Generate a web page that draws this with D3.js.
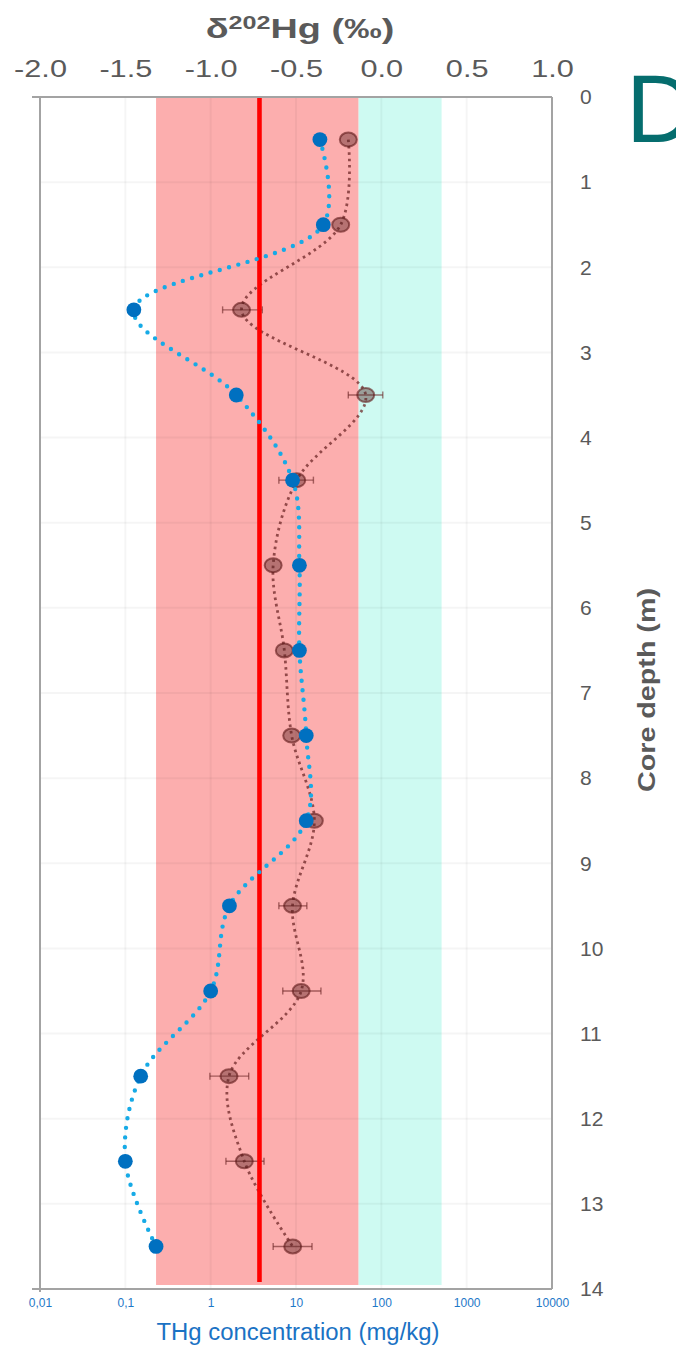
<!DOCTYPE html>
<html><head><meta charset="utf-8">
<script src="https://cdn.jsdelivr.net/npm/d3@7"></script>
<style>
html,body{margin:0;padding:0;background:#fff;}
svg{display:block;font-family:"Liberation Sans",Arial,sans-serif;}
</style></head>
<body>
<svg id="chart" width="676" height="1346"></svg>
<script>
// ---- data ----
const depths = [0.5,1.5,2.5,3.5,4.5,5.5,6.5,7.5,8.5,9.5,10.5,11.5,12.5,13.5];
const delta202Hg = [-0.36,-0.34,-1.45,-0.85,-0.52,-0.48,-0.48,-0.44,-0.44,-0.89,-1.00,-1.41,-1.50,-1.32];
const thgConc = [41,33.4,2.3,65.6,10.2,5.4,7.3,8.9,16.4,9.1,11.5,1.64,2.48,9.15];
const thgErrLow  = [null,null,1.38,41,6.3,null,null,null,null,6.3,7.0,0.98,1.51,5.4];
const thgErrHigh = [null,null,4.03,104,16,null,null,null,null,13.4,19.6,2.79,4.22,15.4];
const deltaTicks = [-2.0,-1.5,-1.0,-0.5,0.0,0.5,1.0];
const concTicks = [0.01,0.1,1,10,100,1000,10000];
const concTickLabels = ["0,01","0,1","1","10","100","1000","10000"];
const depthTicks = [0,1,2,3,4,5,6,7,8,9,10,11,12,13,14];
const pinkBand = [-1.32,-0.133];
const cyanBand = [-0.133,0.353];
const redLine = -0.714;

// ---- scales ----
const L=40,R=552,T=97,B=1289;
const svg = d3.select("#chart");
const xD = d3.scaleLinear().domain([-2,1]).range([L,R]);
const xC = d3.scaleLog().domain([0.01,10000]).range([L,R]);
const y = d3.scaleLinear().domain([0,14]).range([T,B]);

// bands
svg.append("rect").attr("x",xD(pinkBand[0])).attr("y",T)
  .attr("width",xD(pinkBand[1])-xD(pinkBand[0])).attr("height",B-4-T).attr("fill","#fcaeae");
svg.append("rect").attr("x",xD(cyanBand[0])).attr("y",T)
  .attr("width",xD(cyanBand[1])-xD(cyanBand[0])).attr("height",B-4-T).attr("fill","#cefaf2");

// gridlines
const grid = svg.append("g").attr("stroke","rgba(0,0,0,0.04)").attr("stroke-width",2);
grid.selectAll("line.v").data(concTicks.slice(1,-1)).join("line")
  .attr("x1",d=>xC(d)).attr("x2",d=>xC(d)).attr("y1",T).attr("y2",B);
grid.selectAll("line.h").data(depthTicks.slice(1,-1)).join("line")
  .attr("x1",L).attr("x2",R).attr("y1",d=>y(d)).attr("y2",d=>y(d));

// THg series
const thg = depths.map((d,i)=>({d, c:thgConc[i], lo:thgErrLow[i], hi:thgErrHigh[i]}));
const lineC = d3.line().x(p=>xC(p.c)).y(p=>y(p.d)).curve(d3.curveCatmullRom.alpha(0.5));
svg.append("path").datum(thg).attr("d",lineC).attr("fill","none")
  .attr("stroke","rgba(105,35,35,0.72)").attr("stroke-width",2.8)
  .attr("stroke-dasharray","2.6 3.8");
const eb = svg.append("g").attr("stroke","rgba(105,35,35,0.6)").attr("stroke-width",1.4);
thg.filter(p=>p.lo!=null).forEach(p=>{
  eb.append("line").attr("x1",xC(p.lo)).attr("x2",xC(p.hi)).attr("y1",y(p.d)).attr("y2",y(p.d));
  eb.append("line").attr("x1",xC(p.lo)).attr("x2",xC(p.lo)).attr("y1",y(p.d)-3.5).attr("y2",y(p.d)+3.5);
  eb.append("line").attr("x1",xC(p.hi)).attr("x2",xC(p.hi)).attr("y1",y(p.d)-3.5).attr("y2",y(p.d)+3.5);
});
svg.append("g").selectAll("ellipse").data(thg).join("ellipse")
  .attr("cx",p=>xC(p.c)).attr("cy",p=>y(p.d)).attr("rx",8.5).attr("ry",7)
  .attr("fill","rgba(85,30,30,0.42)").attr("stroke","rgba(95,25,25,0.6)").attr("stroke-width",2);

// red line
svg.append("line").attr("x1",xD(redLine)).attr("x2",xD(redLine)).attr("y1",T).attr("y2",B-7)
  .attr("stroke","#ff0000").attr("stroke-width",4.6);

// delta series
const del = depths.map((d,i)=>({d, v:delta202Hg[i]}));
const lineD = d3.line().x(p=>xD(p.v)).y(p=>y(p.d)).curve(d3.curveCatmullRom.alpha(0.5));
svg.append("path").datum(del).attr("d",lineD).attr("fill","none")
  .attr("stroke","#16aae6").attr("stroke-width",4.4).attr("stroke-linecap","round")
  .attr("stroke-dasharray","0 9.6");
svg.append("g").selectAll("circle").data(del).join("circle")
  .attr("cx",p=>xD(p.v)).attr("cy",p=>y(p.d)).attr("r",7.4).attr("fill","#0070c0");

// frame
const fr = svg.append("g").attr("stroke","#a3a3a3").attr("stroke-width",2).attr("fill","none");
fr.append("line").attr("x1",L-8).attr("x2",R).attr("y1",T).attr("y2",T);
fr.append("line").attr("x1",L-8).attr("x2",R).attr("y1",B).attr("y2",B);
fr.append("line").attr("x1",L).attr("x2",L).attr("y1",T).attr("y2",B+3);
fr.append("line").attr("x1",R).attr("x2",R).attr("y1",T).attr("y2",B);

// top axis
const gTop = svg.append("g").attr("transform",`translate(0,${T})`)
  .call(d3.axisTop(xD).tickValues(deltaTicks).tickSize(0).tickPadding(20).tickFormat(d=>d.toFixed(1)));
gTop.select(".domain").remove();
gTop.selectAll("text").attr("font-size",24).attr("fill","#5a5a5a")
  .attr("font-family","Liberation Sans, Arial, sans-serif")
  .attr("transform","scale(1.28,1)");

// bottom axis
const gBot = svg.append("g").attr("transform",`translate(0,${B})`)
  .call(d3.axisBottom(xC).tickValues(concTicks).tickSize(0).tickPadding(9)
    .tickFormat((d,i)=>concTickLabels[i]));
gBot.select(".domain").remove();
gBot.selectAll("text").attr("font-size",12).attr("fill","#1e78c8")
  .attr("font-family","Liberation Sans, Arial, sans-serif");

// right axis
const gR = svg.append("g").attr("transform",`translate(${R},0)`)
  .call(d3.axisRight(y).tickValues(depthTicks).tickSize(0).tickPadding(28));
gR.select(".domain").remove();
gR.selectAll("text").attr("font-size",21).attr("fill","#5a5a5a")
  .attr("font-family","Liberation Sans, Arial, sans-serif");

// titles
const tt = svg.append("text").attr("transform","translate(300,38) scale(1.4,1)").attr("text-anchor","middle")
  .attr("font-size",27).attr("font-weight","bold").attr("fill","#5a5a5a");
tt.append("tspan").text("δ");
tt.append("tspan").attr("font-size",18).attr("dy",-9).text("202");
tt.append("tspan").attr("dy",9).text("Hg (‰)");

svg.append("text").attr("x",298).attr("y",1340).attr("text-anchor","middle")
  .attr("font-size",23).attr("fill","#1a72c4")
  .attr("textLength",283).attr("lengthAdjust","spacingAndGlyphs")
  .text("THg concentration (mg/kg)");

svg.append("text").attr("transform","translate(655,690) rotate(-90)").attr("text-anchor","middle")
  .attr("font-size",23).attr("font-weight","bold").attr("fill","#5a5a5a")
  .attr("textLength",204).attr("lengthAdjust","spacingAndGlyphs")
  .text("Core depth (m)");

svg.append("text").attr("x",626).attr("y",142).attr("font-size",96)
  .attr("fill","#056d6e").text("D");
</script>
</body></html>
